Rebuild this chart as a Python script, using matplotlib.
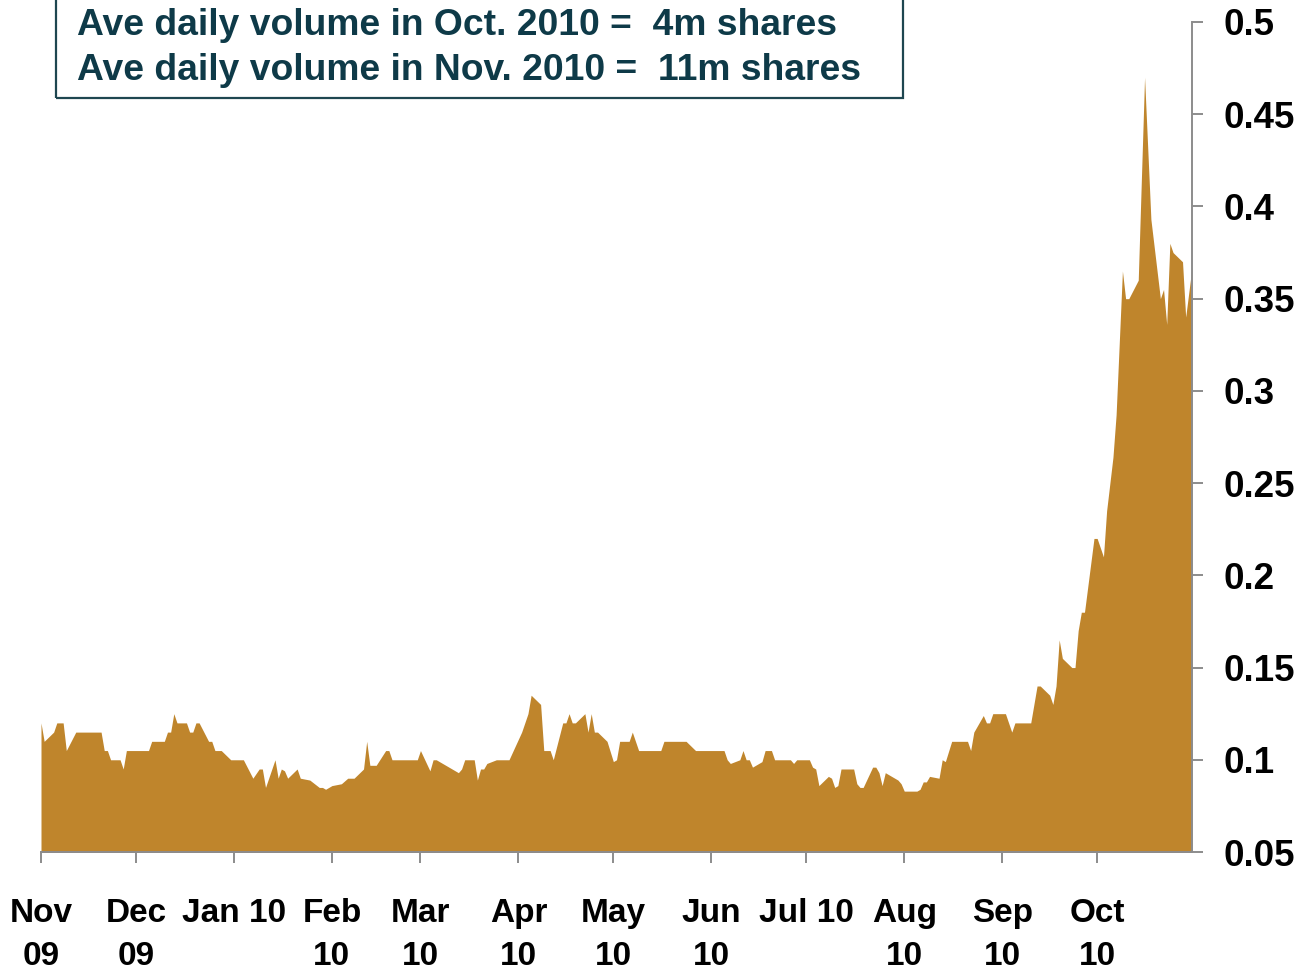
import pandas as pd
import matplotlib.pyplot as plt
from matplotlib.patches import Rectangle

# daily volume (m shares), vertices
dates = [
    "2009-11-01", "2009-11-02", "2009-11-05", "2009-11-06", "2009-11-08", "2009-11-09",
    "2009-11-12", "2009-11-20", "2009-11-21", "2009-11-22", "2009-11-23", "2009-11-26",
    "2009-11-27", "2009-11-28",
    "2009-12-05", "2009-12-06", "2009-12-10", "2009-12-11", "2009-12-12", "2009-12-13",
    "2009-12-14", "2009-12-17", "2009-12-18", "2009-12-19", "2009-12-20", "2009-12-21",
    "2009-12-24", "2009-12-25", "2009-12-26", "2009-12-28", "2009-12-31",
    "2010-01-04", "2010-01-07", "2010-01-09", "2010-01-10", "2010-01-11", "2010-01-14",
    "2010-01-15", "2010-01-16", "2010-01-17", "2010-01-18", "2010-01-21", "2010-01-22",
    "2010-01-25", "2010-01-28", "2010-01-29", "2010-01-30", "2010-01-31",
    "2010-02-01", "2010-02-04", "2010-02-06", "2010-02-08", "2010-02-11", "2010-02-12",
    "2010-02-13", "2010-02-15", "2010-02-18", "2010-02-19", "2010-02-20", "2010-02-28",
    "2010-03-01", "2010-03-04", "2010-03-05", "2010-03-06", "2010-03-13", "2010-03-14",
    "2010-03-15", "2010-03-18", "2010-03-19", "2010-03-20", "2010-03-21", "2010-03-22",
    "2010-03-25", "2010-03-29",
    "2010-04-02", "2010-04-04", "2010-04-05", "2010-04-08", "2010-04-09", "2010-04-11",
    "2010-04-12", "2010-04-15", "2010-04-16", "2010-04-17", "2010-04-18", "2010-04-19",
    "2010-04-22", "2010-04-23", "2010-04-24", "2010-04-25", "2010-04-26", "2010-04-29",
    "2010-05-01", "2010-05-02", "2010-05-03", "2010-05-06", "2010-05-07", "2010-05-09",
    "2010-05-16", "2010-05-17", "2010-05-24", "2010-05-27",
    "2010-06-05", "2010-06-06", "2010-06-07", "2010-06-10", "2010-06-11", "2010-06-12",
    "2010-06-13", "2010-06-14", "2010-06-17", "2010-06-18", "2010-06-20", "2010-06-21",
    "2010-06-26", "2010-06-27", "2010-06-28",
    "2010-07-02", "2010-07-03", "2010-07-04", "2010-07-05", "2010-07-08", "2010-07-09",
    "2010-07-10", "2010-07-11", "2010-07-12", "2010-07-16", "2010-07-17", "2010-07-18",
    "2010-07-19", "2010-07-22", "2010-07-23", "2010-07-24", "2010-07-25", "2010-07-26",
    "2010-07-30", "2010-07-31",
    "2010-08-01", "2010-08-05", "2010-08-06", "2010-08-07", "2010-08-08", "2010-08-09",
    "2010-08-12", "2010-08-13", "2010-08-14", "2010-08-16", "2010-08-21", "2010-08-22",
    "2010-08-23", "2010-08-26", "2010-08-27", "2010-08-28", "2010-08-29",
    "2010-09-02", "2010-09-04", "2010-09-05", "2010-09-10", "2010-09-12", "2010-09-13",
    "2010-09-16", "2010-09-17", "2010-09-18", "2010-09-19", "2010-09-20", "2010-09-23",
    "2010-09-24", "2010-09-25", "2010-09-26", "2010-09-27", "2010-09-30",
    "2010-10-01", "2010-10-03", "2010-10-04", "2010-10-06", "2010-10-07", "2010-10-09",
    "2010-10-10", "2010-10-11", "2010-10-14", "2010-10-16", "2010-10-18", "2010-10-21",
    "2010-10-22", "2010-10-23", "2010-10-24", "2010-10-25", "2010-10-28", "2010-10-29",
    "2010-10-31",
]
volume = [
    0.12, 0.11, 0.115, 0.12, 0.12, 0.105,
    0.115, 0.115, 0.105, 0.105, 0.10, 0.10,
    0.095, 0.105,
    0.105, 0.11, 0.11, 0.115, 0.115, 0.125,
    0.12, 0.12, 0.115, 0.115, 0.12, 0.12,
    0.11, 0.11, 0.105, 0.105, 0.10,
    0.10, 0.09, 0.095, 0.095, 0.085, 0.10,
    0.09, 0.095, 0.094, 0.09, 0.095, 0.09,
    0.089, 0.085, 0.085, 0.084, 0.085,
    0.086, 0.087, 0.09, 0.09, 0.095, 0.11,
    0.097, 0.097, 0.105, 0.105, 0.10, 0.10,
    0.105, 0.094, 0.10, 0.10, 0.093, 0.095,
    0.10, 0.10, 0.089, 0.095, 0.095, 0.098,
    0.10, 0.10,
    0.115, 0.125, 0.135, 0.13, 0.105, 0.105,
    0.10, 0.12, 0.12, 0.125, 0.12, 0.12,
    0.125, 0.115, 0.125, 0.115, 0.115, 0.11,
    0.099, 0.10, 0.11, 0.11, 0.115, 0.105,
    0.105, 0.11, 0.11, 0.105,
    0.105, 0.10, 0.098, 0.10, 0.105, 0.10,
    0.10, 0.096, 0.099, 0.105, 0.105, 0.10,
    0.10, 0.098, 0.10,
    0.10, 0.096, 0.095, 0.086, 0.091, 0.09,
    0.085, 0.086, 0.095, 0.095, 0.087, 0.085,
    0.085, 0.096, 0.096, 0.093, 0.086, 0.093,
    0.089, 0.087,
    0.083, 0.083, 0.084, 0.088, 0.088, 0.091,
    0.09, 0.10, 0.099, 0.11, 0.11, 0.105,
    0.115, 0.124, 0.12, 0.12, 0.125,
    0.125, 0.115, 0.12, 0.12, 0.14, 0.14,
    0.135, 0.13, 0.14, 0.165, 0.155, 0.15,
    0.15, 0.17, 0.18, 0.18, 0.22,
    0.22, 0.21, 0.235, 0.264, 0.287, 0.365,
    0.35, 0.35, 0.36, 0.47, 0.393, 0.35,
    0.355, 0.336, 0.38, 0.375, 0.37, 0.34,
    0.367,
]

month_starts = ["2009-11-01", "2009-12-01", "2010-01-01", "2010-02-01", "2010-03-01",
                "2010-04-01", "2010-05-01", "2010-06-01", "2010-07-01", "2010-08-01",
                "2010-09-01", "2010-10-01"]
month_labels = ["Nov\n09", "Dec\n09", "Jan 10", "Feb\n10", "Mar\n10", "Apr\n10",
                "May\n10", "Jun\n10", "Jul 10", "Aug\n10", "Sep\n10", "Oct\n10"]
y_ticks = [0.05, 0.1, 0.15, 0.2, 0.25, 0.3, 0.35, 0.4, 0.45, 0.5]

note_lines = ["Ave daily volume in Oct. 2010 =  4m shares",
              "Ave daily volume in Nov. 2010 =  11m shares"]

plt.rcParams["font.family"] = ["Liberation Sans", "DejaVu Sans"]

x = pd.to_datetime(dates)
W, H = 1301, 973
fig = plt.figure(figsize=(W / 100, H / 100), dpi=100)
ax = fig.add_axes([41 / W, 1 - 852 / H, (1192 - 41) / W, (852 - 22) / H])

ax.fill_between(x, volume, 0, color="#BF852C", linewidth=0)
ax.set_xlim(pd.Timestamp("2009-11-01"), pd.Timestamp("2010-10-31"))
ax.set_ylim(0.05, 0.5)

grey = "#8C8C8C"
for s in ["top", "left"]:
    ax.spines[s].set_visible(False)
for s in ["right", "bottom"]:
    ax.spines[s].set_color(grey)
    ax.spines[s].set_linewidth(1.4)

ax.yaxis.tick_right()
ax.set_yticks(y_ticks)
ax.set_yticklabels([f"{v:g}" for v in y_ticks], fontsize=26.5, fontweight="bold")
ax.tick_params(axis="y", direction="out", length=8, width=1.4, color=grey, pad=15)

ax.set_xticks(pd.to_datetime(month_starts))
ax.set_xticklabels(month_labels, fontsize=24, fontweight="bold", linespacing=1.52)
ax.tick_params(axis="x", direction="out", length=8, width=1.4, color=grey, pad=25)

# note box at top-left, cut off by the figure top
fig.patches.append(Rectangle((56 / W, 1 - 98 / H), (903 - 56) / W, 0.2,
                             transform=fig.transFigure, fill=False,
                             edgecolor="#1E4650", linewidth=1.6))
for i, line in enumerate(note_lines):
    fig.text(77 / W, 1 - (35 + 45 * i) / H, line, fontsize=26.8, fontweight="bold",
             color="#0E3A48", va="baseline", ha="left")

fig.savefig("out.png", dpi=100)
